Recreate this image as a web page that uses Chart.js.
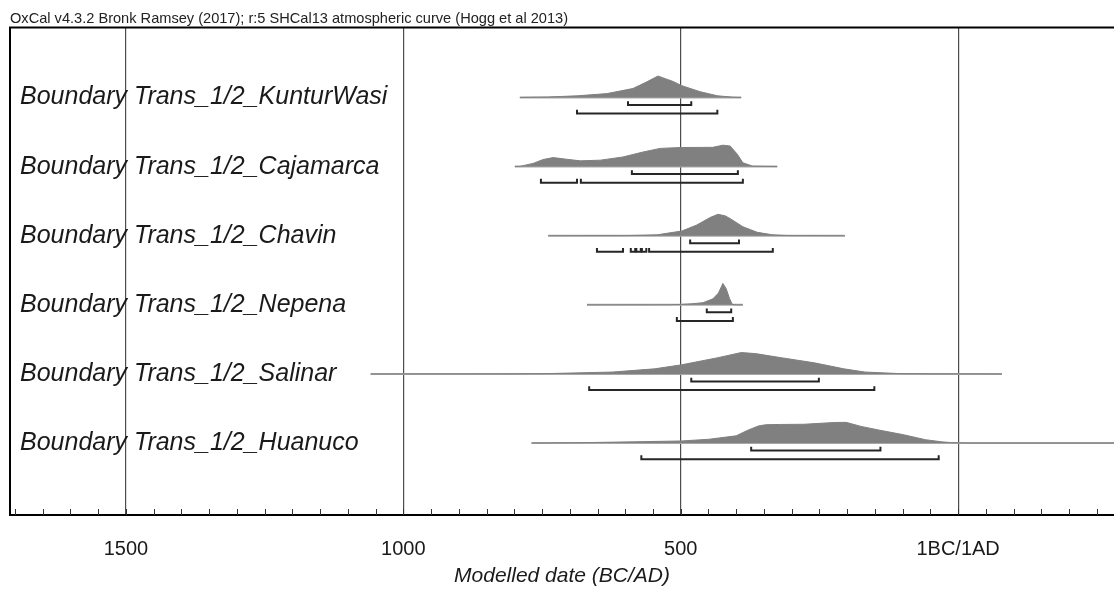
<!DOCTYPE html>
<html>
<head>
<meta charset="utf-8">
<script src="https://cdn.jsdelivr.net/npm/chart.js@4/dist/chart.umd.min.js"></script>
<style>
  html, body { margin: 0; padding: 0; background: #fff; }
  #wrap { width: 1114px; height: 590px; position: relative; }
</style>
</head>
<body>
<div id="wrap"><canvas id="oxcal-chart"></canvas></div>
<script>
// --- Data (years: negative = BC, positive = AD) ---
const ROW_NAMES = [
    'Boundary Trans_1/2_KunturWasi',
    'Boundary Trans_1/2_Cajamarca',
    'Boundary Trans_1/2_Chavin',
    'Boundary Trans_1/2_Nepena',
    'Boundary Trans_1/2_Salinar',
    'Boundary Trans_1/2_Huanuco'
];

const X_TICK_VALUES = [-1500, -1000, -500, 0];
const X_TICK_LABELS = ['1500', '1000', '500', '1BC/1AD'];

// relative probability (1 = peak) at each year
const kunturWasiYears = [-790, -740, -685, -633, -586, -561, -541, -514, -498, -465, -434, -405, -391];
const kunturWasiProb  = [0, 0.02, 0.08, 0.18, 0.42, 0.73, 1.0, 0.75, 0.55, 0.27, 0.08, 0.01, 0];
const kunturWasi68 = [[-595, -481]];
const kunturWasi95 = [[-687, -434]];

const cajamarcaYears = [-799, -790, -766, -748, -730, -705, -681, -645, -604, -568, -537, -501, -442, -424, -411, -398, -388, -370, -326];
const cajamarcaProb  = [0, 0.01, 0.15, 0.33, 0.42, 0.34, 0.27, 0.3, 0.45, 0.68, 0.85, 0.89, 0.9, 1.0, 0.96, 0.58, 0.18, 0.02, 0];
const cajamarca68 = [[-588, -397]];
const cajamarca95 = [[-752, -687], [-680, -388]];

const chavinYears = [-739, -600, -543, -498, -471, -447, -433, -420, -411, -388, -362, -334, -303, -204];
const chavinProb  = [0, 0.005, 0.04, 0.22, 0.5, 0.85, 1.0, 0.93, 0.8, 0.42, 0.16, 0.04, 0.005, 0];
const chavin68 = [[-483, -395]];
const chavin95 = [[-651, -604], [-590, -582], [-580, -572], [-570, -562], [-557, -334]];

const nepenaYears = [-669, -520, -501, -480, -460, -442, -432, -424, -418, -412, -407, -400, -388];
const nepenaProb  = [0, 0.005, 0.02, 0.05, 0.1, 0.28, 0.55, 1.0, 0.75, 0.3, 0.02, 0, 0];
const nepena68 = [[-453, -409]];
const nepena95 = [[-507, -406]];

const salinarYears = [-1059, -800, -737, -623, -547, -498, -433, -391, -365, -319, -259, -206, -168, -107, -50, 79];
const salinarProb  = [0, 0.005, 0.02, 0.09, 0.24, 0.43, 0.76, 1.0, 0.95, 0.76, 0.52, 0.24, 0.09, 0.02, 0.005, 0];
const salinar68 = [[-481, -251]];
const salinar95 = [[-665, -151]];

const huanucoYears = [-769, -680, -585, -498, -449, -400, -380, -360, -346, -320, -278, -224, -202, -175, -141, -100, -59, -30, -11, 20, 300];
const huanucoProb  = [0, 0.02, 0.06, 0.1, 0.18, 0.34, 0.59, 0.8, 0.86, 0.87, 0.88, 0.96, 0.97, 0.78, 0.6, 0.4, 0.16, 0.06, 0.02, 0, 0];
const huanuco68 = [[-373, -140]];
const huanuco95 = [[-571, -35]];

// --- Styling constants (row units) ---
const PEAK_HEIGHT = 0.31;
const OFFSET_68 = 0.108;
const OFFSET_95 = 0.232;
const BRACKET_TICK = 0.055;
const FONT = "'Liberation Sans', Arial, sans-serif";

const rows = [
    { years: kunturWasiYears, prob: kunturWasiProb, r68: kunturWasi68, r95: kunturWasi95 },
    { years: cajamarcaYears, prob: cajamarcaProb, r68: cajamarca68, r95: cajamarca95 },
    { years: chavinYears, prob: chavinProb, r68: chavin68, r95: chavin95 },
    { years: nepenaYears, prob: nepenaProb, r68: nepena68, r95: nepena95 },
    { years: salinarYears, prob: salinarProb, r68: salinar68, r95: salinar95 },
    { years: huanucoYears, prob: huanucoProb, r68: huanuco68, r95: huanuco95 }
];

function bracketData(range, y) {
    return [
        { x: range[0], y: y - BRACKET_TICK },
        { x: range[0], y: y },
        { x: range[1], y: y },
        { x: range[1], y: y - BRACKET_TICK }
    ];
}

const datasets = [];
rows.forEach((row, i) => {
    // filled distribution
    datasets.push({
        data: row.years.map((yr, j) => ({ x: yr, y: i - row.prob[j] * PEAK_HEIGHT })),
        fill: { value: i },
        backgroundColor: '#808080',
        borderColor: '#808080',
        borderWidth: 1,
        pointRadius: 0,
        tension: 0,
        order: 2
    });
    // grey baseline under the distribution
    datasets.push({
        data: [{ x: row.years[0], y: i }, { x: row.years[row.years.length - 1], y: i }],
        borderColor: '#a8a8a8',
        borderWidth: 2,
        pointRadius: 0,
        order: 3
    });
    // 68.2% and 95.4% ranges
    row.r68.forEach(r => datasets.push({
        data: bracketData(r, i + OFFSET_68),
        borderColor: '#262626', borderWidth: 2, pointRadius: 0, order: 1
    }));
    row.r95.forEach(r => datasets.push({
        data: bracketData(r, i + OFFSET_95),
        borderColor: '#262626', borderWidth: 2, pointRadius: 0, order: 1
    }));
});

// frame top line + small inward minor ticks on the date axis
const framePlugin = {
    id: 'oxcalFrame',
    afterDraw(chart) {
        const { ctx, chartArea } = chart;
        const xScale = chart.scales.x;
        ctx.save();
        ctx.strokeStyle = '#000';
        ctx.lineWidth = 2;
        ctx.beginPath();
        ctx.moveTo(chartArea.left - 1, chartArea.top);
        ctx.lineTo(chartArea.right, chartArea.top);
        ctx.stroke();
        ctx.lineWidth = 1;
        ctx.strokeStyle = '#333';
        ctx.beginPath();
        xScale.ticks.forEach(t => {
            const px = Math.round(xScale.getPixelForValue(t.value)) + 0.5;
            ctx.moveTo(px, chartArea.bottom);
            ctx.lineTo(px, chartArea.bottom - 6);
        });
        ctx.stroke();
        ctx.restore();
    }
};

new Chart(document.getElementById('oxcal-chart'), {
    type: 'line',
    data: { datasets: datasets },
    options: {
        responsive: true,
        maintainAspectRatio: false,
        animation: false,
        events: [],
        layout: { padding: { left: 10, right: 0, top: 0, bottom: 0 } },
        plugins: {
            legend: { display: false },
            tooltip: { enabled: false },
            title: {
                display: true,
                text: 'OxCal v4.3.2 Bronk Ramsey (2017); r:5 SHCal13 atmospheric curve (Hogg et al 2013)',
                align: 'start',
                color: '#222',
                font: { family: FONT, size: 14.6, weight: 'normal' },
                padding: { top: 10, bottom: 0 }
            }
        },
        scales: {
            x: {
                type: 'linear',
                min: -1709,
                max: 281,
                z: 1,
                afterBuildTicks: (scale) => {
                    const ticks = [];
                    for (let v = Math.ceil(scale.min / 50) * 50; v <= scale.max; v += 50) ticks.push({ value: v });
                    scale.ticks = ticks;
                },
                afterFit: (scale) => {
                    scale.height = 75;
                    scale.paddingLeft = 0;
                    scale.paddingRight = 0;
                },
                ticks: {
                    autoSkip: false,
                    maxRotation: 0,
                    minRotation: 0,
                    padding: 22,
                    color: '#1a1a1a',
                    font: { family: FONT, size: 20 },
                    callback: (value) => {
                        const idx = X_TICK_VALUES.indexOf(value);
                        return idx >= 0 ? X_TICK_LABELS[idx] : '';
                    }
                },
                grid: {
                    drawTicks: false,
                    lineWidth: 1.2,
                    color: (c) => (c.tick && c.tick.value % 500 === 0) ? '#4d4d4d' : 'rgba(0,0,0,0)'
                },
                border: { display: true, color: '#000', width: 2 },
                title: {
                    display: true,
                    text: 'Modelled date (BC/AD)',
                    color: '#1a1a1a',
                    font: { family: FONT, size: 21, style: 'italic' },
                    padding: { top: 4, bottom: 1 }
                }
            },
            y: {
                type: 'linear',
                reverse: true,
                min: -1.012,
                max: 6.04,
                afterBuildTicks: (scale) => {
                    scale.ticks = ROW_NAMES.map((_, i) => ({ value: i }));
                },
                afterFit: (scale) => {
                    scale.width = 0;
                    scale.paddingTop = 0;
                    scale.paddingBottom = 0;
                },
                ticks: {
                    mirror: true,
                    padding: 10,
                    color: '#1a1a1a',
                    font: { family: FONT, size: 25, style: 'italic' },
                    callback: (value) => ROW_NAMES[value] || ''
                },
                grid: { display: false, drawTicks: false },
                border: { display: true, color: '#000', width: 2 }
            }
        }
    },
    plugins: [framePlugin]
});
</script>
</body>
</html>
